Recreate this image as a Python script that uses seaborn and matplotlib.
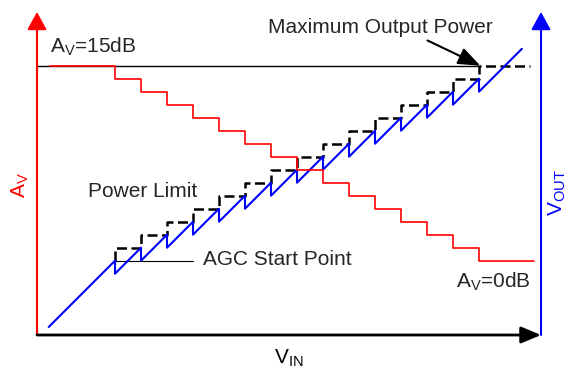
import matplotlib
matplotlib.use('Agg')
import matplotlib.pyplot as plt
import seaborn as sns

# AGC steps (V_IN in dB, one step every 2 dB)
agc_vin = [6, 8, 10, 12, 14, 16, 18, 20, 22, 24, 26, 28, 30, 32, 34]
gain_db = [15, 14, 13, 12, 11, 10, 9, 8, 7, 6, 5, 4, 3, 2, 1, 0]
power_limit = [7, 8, 9, 10, 11, 12, 13, 14, 15, 16, 17, 18, 19, 20, 21]
vout_max = 21
vin_start, vin_end = 0.9, 37.3
red_start, red_end = 1.0, 38.2
dash_end = 37.9

sns.set_style('white')
plt.rcParams['font.family'] = ['Liberation Sans', 'DejaVu Sans']
plt.rcParams['mathtext.default'] = 'regular'
FS = 15


def build_vout():
    xs, ys = [vin_start], [vin_start + gain_db[0] - 15]
    for k, x in enumerate(agc_vin):
        xs += [x, x]
        ys += [x + gain_db[k] - 15, x + gain_db[k + 1] - 15]
    xs.append(vin_end)
    ys.append(vin_end + gain_db[-1] - 15)
    return xs, ys


fig = plt.figure(figsize=(5.69, 3.70), dpi=100)
ax = fig.add_axes([37 / 569, 35 / 370, 504 / 569, 323 / 370])
ax.set_xlim(0, 504 / 13)
vlo, vhi = 0.285, 25.13
ax.set_ylim(vlo, vhi)
ax_av = ax.twinx()
ax_av.set_ylim(vlo - 6, vhi - 6)
for a in (ax, ax_av):
    a.set_axis_off()

# max output reference line
sns.lineplot(x=[0, agc_vin[-1]], y=[vout_max, vout_max], ax=ax, color='black',
             lw=1.0, estimator=None, sort=False)

# power limit (dashed staircase)
sns.lineplot(x=[agc_vin[0]] + agc_vin + [dash_end],
             y=[agc_vin[0] + gain_db[0] - 15] + power_limit + [power_limit[-1]],
             ax=ax, color='black', lw=1.8, drawstyle='steps-post',
             dashes=False, estimator=None, sort=False, linestyle=(0, (4, 1.8)))

# AGC start marker line
sns.lineplot(x=[agc_vin[0], 12], y=[6, 6], ax=ax, color='black', lw=0.8,
             estimator=None, sort=False)

# output voltage sawtooth
vx, vy = build_vout()
sns.lineplot(x=vx, y=vy, ax=ax, color='blue', lw=1.5, estimator=None, sort=False)

# gain steps
sns.lineplot(x=[red_start] + agc_vin + [red_end], y=gain_db + [gain_db[-1]],
             ax=ax_av, color='red', lw=1.2, drawstyle='steps-post',
             estimator=None, sort=False)

# axes with arrows
ax.annotate('', xy=(0, 1), xytext=(0, 0), xycoords='axes fraction',
            arrowprops=dict(arrowstyle='-|>,head_length=0.6,head_width=0.33',
                            mutation_scale=18, color='red', lw=1.5,
                            shrinkA=0, shrinkB=0))
ax.annotate('', xy=(1, 1), xytext=(1, 0), xycoords='axes fraction',
            arrowprops=dict(arrowstyle='-|>,head_length=0.6,head_width=0.33',
                            mutation_scale=18, color='blue', lw=1.5,
                            shrinkA=0, shrinkB=0))
ax.annotate('', xy=(1, 0), xytext=(0, 0), xycoords='axes fraction',
            arrowprops=dict(arrowstyle='-|>,head_length=0.67,head_width=0.28',
                            mutation_scale=18, color='black', lw=2,
                            shrinkA=0, shrinkB=0))

# annotations
ax.annotate('Maximum Output Power', xy=(agc_vin[-1] + 0.1, vout_max),
            xytext=(26.4, 23.5), ha='center', va='baseline', fontsize=FS,
            arrowprops=dict(arrowstyle='-|>,head_length=0.9,head_width=0.35',
                            mutation_scale=15, color='black', lw=1.5,
                            shrinkA=0, shrinkB=0,
                            relpos=(0.68, 0)))
ax.text(1.0, 21.98, 'A$_V$=15dB', fontsize=FS, ha='left', va='baseline')
ax.text(12.3, 10.9, 'Power Limit', fontsize=FS, ha='right', va='baseline')
ax.text(12.8, 5.67, 'AGC Start Point', fontsize=FS, ha='left', va='baseline')
ax.text(32.2, 3.9, 'A$_V$=0dB', fontsize=FS, ha='left', va='baseline')

fig.text(20 / 569, 1 - 185 / 370, 'A$_V$', color='red', fontsize=FS,
         rotation=90, ha='center', va='center')
fig.text(557 / 569, 1 - 193 / 370, 'V$_{OUT}$', color='blue', fontsize=FS,
         rotation=90, ha='center', va='center')
fig.text(289 / 569, 1 - 358 / 370, 'V$_{IN}$', color='black', fontsize=FS,
         ha='center', va='center')

plt.savefig('out.png', dpi=100)
